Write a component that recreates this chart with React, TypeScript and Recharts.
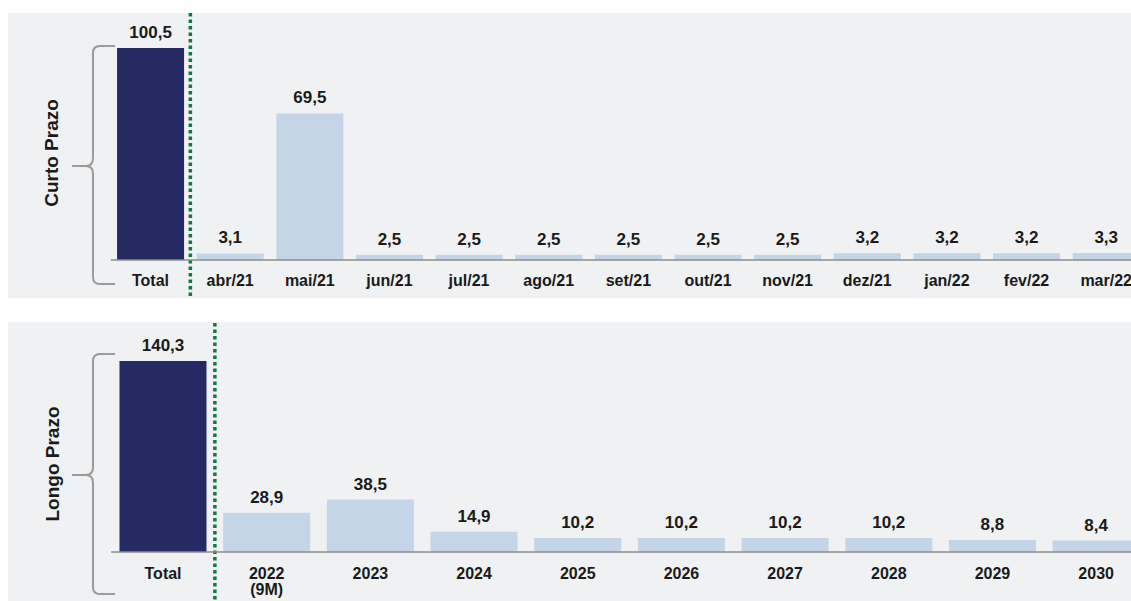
import { BarChart, Bar, XAxis, YAxis, Cell, LabelList, ReferenceLine } from 'recharts';

const curtoCategories = ['Total', 'abr/21', 'mai/21', 'jun/21', 'jul/21', 'ago/21', 'set/21', 'out/21', 'nov/21', 'dez/21', 'jan/22', 'fev/22', 'mar/22'];
const curtoValues = [100.5, 3.1, 69.5, 2.5, 2.5, 2.5, 2.5, 2.5, 2.5, 3.2, 3.2, 3.2, 3.3];

const longoCategories = ['Total', '2022\n(9M)', '2023', '2024', '2025', '2026', '2027', '2028', '2029', '2030'];
const longoValues = [140.3, 28.9, 38.5, 14.9, 10.2, 10.2, 10.2, 10.2, 8.8, 8.4];

const NAVY = '#252b62';
const LIGHT = '#c3d5e6';
const PANEL = '#eff1f3';
const GREEN = '#0f7a3c';
const FONT = '"Liberation Sans", Arial, sans-serif';

const fmt = (v: any) => String(v).replace('.', ',');

const CategoryTick = ({ x, y, payload, dy0 }: any) => {
  const lines = String(payload.value).split('\n');
  return (
    <text x={x} y={y + dy0} textAnchor="middle" fontFamily={FONT} fontWeight="bold" fontSize={16} fill="#1a1a1a">
      {lines.map((l, i) => (
        <tspan key={i} x={x} dy={i === 0 ? 0 : 16}>{l}</tspan>
      ))}
    </text>
  );
};

const DottedLine = ({ top, bottom }: { top: number; bottom: number }) => (props: any) => (
  <line x1={props.x1} x2={props.x2} y1={top} y2={bottom} stroke={GREEN} strokeWidth={3.5} strokeDasharray="3.5 3" />
);

const Brace = ({ top, mid, bottom }: { top: number; mid: number; bottom: number }) => (
  <path
    d={`M115 ${top} L100 ${top} Q93 ${top} 93 ${top + 7} L93 ${mid - 8} Q93 ${mid} 86 ${mid} L72 ${mid} M86 ${mid} Q93 ${mid} 93 ${mid + 8} L93 ${bottom - 7} Q93 ${bottom} 100 ${bottom} L115 ${bottom}`}
    fill="none"
    stroke="#9a9a9a"
    strokeWidth={2}
  />
);

function buildData(cats: string[], vals: number[]) {
  return cats.map((c, i) => ({ name: c, value: vals[i] }));
}

export default function App() {
  const curtoData = buildData(curtoCategories, curtoValues);
  const longoData = buildData(longoCategories, longoValues);

  return (
    <div style={{ position: 'absolute', left: 0, top: 0, width: 1131, height: 601, overflow: 'hidden', background: '#fff' }}>
      <div style={{ position: 'absolute', left: 8, top: 13, width: 1123, height: 285, background: PANEL }} />
      <div style={{ position: 'absolute', left: 8, top: 322, width: 1123, height: 279, background: PANEL }} />

      <div style={{ position: 'absolute', left: 0, top: 0 }}>
        <BarChart width={1146} height={300} data={curtoData} margin={{ top: 48, right: 0, left: 110.7, bottom: 0 }} barCategoryGap="8%">
          <XAxis
            dataKey="name"
            interval={0}
            height={40}
            tickLine={false}
            tickSize={0}
            tickMargin={0}
            axisLine={{ stroke: '#8c8c8c', strokeWidth: 1.5 }}
            tick={<CategoryTick dy0={26} />}
          />
          <YAxis hide domain={[0, Math.max(...curtoValues)]} />
          <ReferenceLine x="Total" position="end" ifOverflow="visible" shape={DottedLine({ top: 13, bottom: 298 })} />
          <Bar dataKey="value" isAnimationActive={false}>
            {curtoData.map((d, i) => (
              <Cell key={d.name} fill={i === 0 ? NAVY : LIGHT} />
            ))}
            <LabelList dataKey="value" position="top" offset={10} formatter={fmt} fill="#1a1a1a" fontFamily={FONT} fontWeight="bold" fontSize={17} />
          </Bar>
        </BarChart>
      </div>

      <div style={{ position: 'absolute', left: 0, top: 310 }}>
        <BarChart width={1148} height={291} data={longoData} margin={{ top: 51, right: 0, left: 111.2, bottom: 0 }} barCategoryGap="8%">
          <XAxis
            dataKey="name"
            interval={0}
            height={49}
            tickLine={false}
            tickSize={0}
            tickMargin={0}
            axisLine={{ stroke: '#8c8c8c', strokeWidth: 1.5 }}
            tick={<CategoryTick dy0={27} />}
          />
          <YAxis hide domain={[0, Math.max(...longoValues)]} />
          <ReferenceLine x="Total" position="end" ifOverflow="visible" shape={DottedLine({ top: 13, bottom: 291 })} />
          <Bar dataKey="value" isAnimationActive={false}>
            {longoData.map((d, i) => (
              <Cell key={d.name} fill={i === 0 ? NAVY : LIGHT} />
            ))}
            <LabelList dataKey="value" position="top" offset={10} formatter={fmt} fill="#1a1a1a" fontFamily={FONT} fontWeight="bold" fontSize={17} />
          </Bar>
        </BarChart>
      </div>

      <svg width={1131} height={601} style={{ position: 'absolute', left: 0, top: 0, pointerEvents: 'none' }}>
        <Brace top={46} mid={166} bottom={284} />
        <Brace top={354} mid={475} bottom={594} />
        <text x={0} y={0} transform="translate(58 153) rotate(-90)" textAnchor="middle" fontFamily={FONT} fontWeight="bold" fontSize={19} fill="#1a1a1a">
          Curto Prazo
        </text>
        <text x={0} y={0} transform="translate(59 464) rotate(-90)" textAnchor="middle" fontFamily={FONT} fontWeight="bold" fontSize={19} fill="#1a1a1a">
          Longo Prazo
        </text>
      </svg>
    </div>
  );
}
